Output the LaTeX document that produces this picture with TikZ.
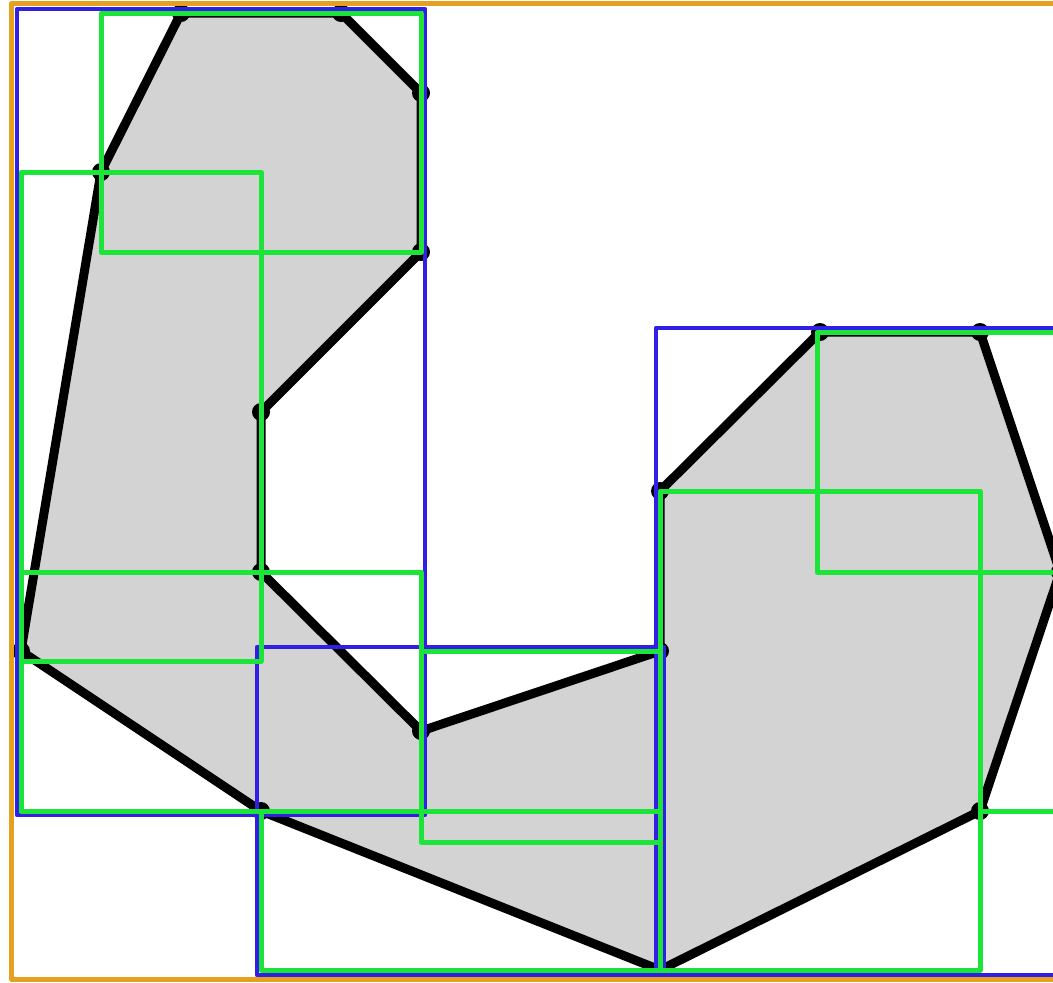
\documentclass[tikz,border=0pt]{standalone}
\definecolor{polyfill}{RGB}{211,211,211}
\definecolor{myorange}{RGB}{230,160,32}
\definecolor{myblue}{RGB}{48,32,230}
\definecolor{mygreen}{RGB}{28,228,56}
\begin{document}
\begin{tikzpicture}[x=0.5pt,y=-0.5pt,
  polyshape/.style={fill=polyfill, draw=black, line width=4.5pt, line join=round},
  vdot/.style={fill=black},
  obox/.style={draw=myorange, line width=2.5pt, line join=round},
  bbox/.style={draw=myblue, line width=2.3pt, line join=round},
  gbox/.style={draw=mygreen, line width=2.5pt, line join=round}]
\useasboundingbox (0,0) rectangle (1053,982);
\clip (0,0) rectangle (1053,982);
% polygon vertices
\coordinate (p1) at (181,13);
\coordinate (p2) at (341,13);
\coordinate (p3) at (421,93);
\coordinate (p4) at (421,252);
\coordinate (p5) at (261,412);
\coordinate (p6) at (261,572);
\coordinate (p7) at (421,731);
\coordinate (p8) at (660,651);
\coordinate (p9) at (660,491);
\coordinate (p10) at (820,332);
\coordinate (p11) at (980,332);
\coordinate (p12) at (1060,572);
\coordinate (p13) at (980,811);
\coordinate (p14) at (660,970);
\coordinate (p15) at (261,811);
\coordinate (p16) at (21,651);
\coordinate (p17) at (101,172);
% filled polygon
\path[polyshape] (p1) -- (p2) -- (p3) -- (p4) -- (p5) -- (p6) -- (p7) -- (p8) -- (p9) -- (p10) -- (p11) -- (p12) -- (p13) -- (p14) -- (p15) -- (p16) -- (p17) -- cycle;
% vertex dots
\foreach \i in {1,...,17} { \fill[vdot] (p\i) circle [radius=4.5pt]; }
% overall box
\draw[obox] (11.5,3.5) rectangle (1069.5,979.5);
% level boxes
\draw[bbox] (17,9) rectangle (425,815);
\draw[bbox] (257,647) rectangle (664,975);
\draw[bbox] (656,328) rectangle (1064,975);
% leaf boxes
\draw[gbox] (101,13) rectangle (421,252);
\draw[gbox] (21,172) rectangle (261,661);
\draw[gbox] (21,572) rectangle (421,811);
\draw[gbox] (261,811) rectangle (660,970);
\draw[gbox] (421,651) rectangle (660,842);
\draw[gbox] (660,491) rectangle (980,970);
\draw[gbox] (817,332) rectangle (1060,572);
\draw[gbox] (980,572) rectangle (1060,811);
\end{tikzpicture}
\end{document}
